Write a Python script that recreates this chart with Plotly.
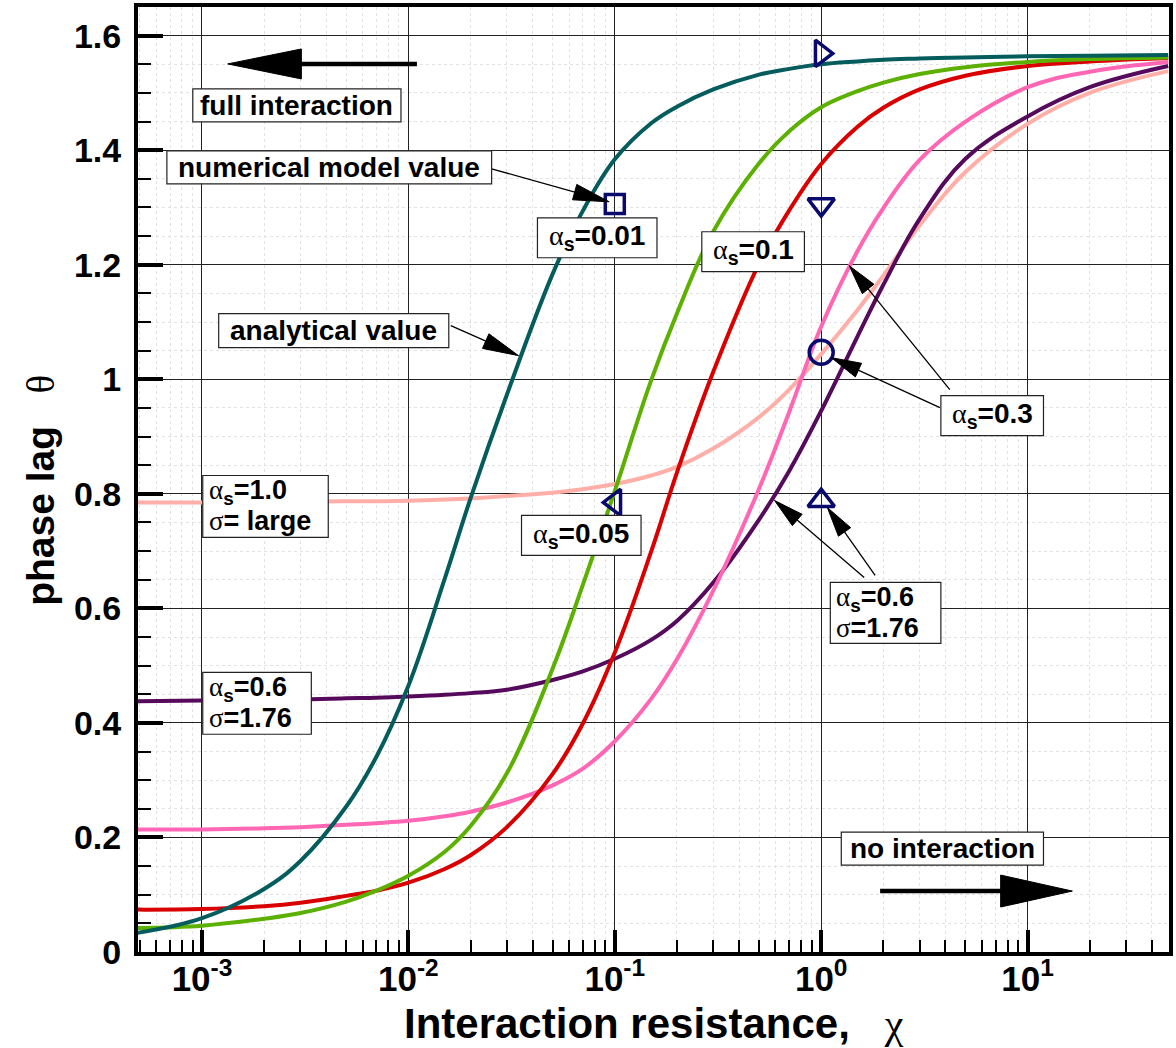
import math
import plotly.graph_objects as go

# ---------------- data ----------------
# interaction resistance chi (shared sampling of the analytical curves)
chi = [4.8e-4, 1e-3, 2e-3, 3e-3, 5e-3, 7e-3, 0.01, 0.015, 0.02, 0.03, 0.05, 0.07,
       0.1, 0.15, 0.2, 0.3, 0.5, 0.7, 1, 1.5, 2, 3, 5, 10, 20, 48]

# analytical phase lag theta for each case
theta_a001 = [0.033, 0.059, 0.110, 0.159, 0.254, 0.341, 0.465, 0.652, 0.792, 0.973, 1.184, 1.294,
              1.384, 1.447, 1.476, 1.506, 1.532, 1.542, 1.550, 1.555, 1.558, 1.560, 1.562, 1.564, 1.565, 1.566]
theta_a005 = [0.042, 0.046, 0.058, 0.068, 0.088, 0.107, 0.133, 0.175, 0.220, 0.312, 0.495, 0.641,
              0.805, 0.998, 1.115, 1.258, 1.377, 1.433, 1.475, 1.503, 1.518, 1.533, 1.545, 1.554, 1.559, 1.562]
theta_a01 = [0.074, 0.075, 0.080, 0.086, 0.098, 0.107, 0.121, 0.145, 0.169, 0.218, 0.311, 0.399,
             0.523, 0.699, 0.837, 1.013, 1.202, 1.295, 1.376, 1.441, 1.474, 1.506, 1.530, 1.547, 1.555, 1.561]
theta_a03 = [0.214, 0.214, 0.216, 0.218, 0.222, 0.225, 0.229, 0.237, 0.245, 0.261, 0.291, 0.320,
             0.368, 0.442, 0.511, 0.631, 0.809, 0.943, 1.092, 1.224, 1.299, 1.383, 1.450, 1.510, 1.537, 1.554]
theta_a06 = [0.438, 0.439, 0.440, 0.441, 0.443, 0.444, 0.446, 0.449, 0.452, 0.458, 0.475, 0.490,
             0.512, 0.545, 0.578, 0.645, 0.755, 0.840, 0.945, 1.075, 1.165, 1.280, 1.385, 1.459, 1.510, 1.547]
theta_a10 = [0.785, 0.785, 0.786, 0.786, 0.787, 0.787, 0.788, 0.790, 0.792, 0.796, 0.802, 0.808,
             0.817, 0.832, 0.847, 0.879, 0.934, 0.982, 1.044, 1.121, 1.181, 1.269, 1.362, 1.446, 1.500, 1.538]

# numerical model values
num_chi = [0.1, 1, 1, 1, 0.1, 1]
num_theta = [1.306, 1.569, 1.305, 1.047, 0.785, 0.788]

y_ticks = [0, 0.2, 0.4, 0.6, 0.8, 1.0, 1.2, 1.4, 1.6]
x_ticks = [1e-3, 1e-2, 1e-1, 1, 10]
x_ticktext = ["10<sup>-3</sup>", "10<sup>-2</sup>", "10<sup>-1</sup>", "10<sup>0</sup>", "10<sup>1</sup>"]

# ---------------- geometry / style ----------------
FONT = "Liberation Sans, Arial, sans-serif"
SERIF = "Liberation Serif"
FIG_W, FIG_H = 1176, 1048
M_L, M_R, M_T, M_B = 138, 3, 6, 96
PW = FIG_W - M_L - M_R
PH = FIG_H - M_T - M_B
NAVY = "#0a0a6e"
LABEL_SIZE = 28


def pp(x, y):
    """page pixel -> paper fraction"""
    return (x - M_L) / PW, (FIG_H - M_B - y) / PH


fig = go.Figure()

curves = [
    (theta_a10, "#ffaea8"),
    (theta_a06, "#560a5c"),
    (theta_a03, "#ff66b3"),
    (theta_a01, "#d80000"),
    (theta_a005, "#5cb000"),
    (theta_a001, "#045c5c"),
]
for th, col in curves:
    fig.add_trace(go.Scatter(x=chi, y=th, mode="lines",
                             line=dict(color=col, width=4, shape="spline", smoothing=1.1),
                             hoverinfo="skip"))

symbols = ["square-open", "triangle-right-open", "triangle-down-open",
           "circle-open", "triangle-left-open", "triangle-up-open"]
sizes = [19, 23, 23, 24, 23, 23]
for cx, ty, sym, sz in zip(num_chi, num_theta, symbols, sizes):
    fig.add_trace(go.Scatter(x=[cx], y=[ty], mode="markers",
                             marker=dict(symbol=sym, size=sz, color=NAVY,
                                         line=dict(color=NAVY, width=3.5)),
                             hoverinfo="skip"))


def add_box(l, t, r, b):
    x0, y0 = pp(l, b)
    x1, y1 = pp(r, t)
    fig.add_shape(type="rect", xref="paper", yref="paper", x0=x0, y0=y0, x1=x1, y1=y1,
                  fillcolor="white", line=dict(color="#222", width=1.2), layer="above")


def add_text(text, x, y, xanchor="center", size=LABEL_SIZE, angle=0):
    ax_, ay_ = pp(x, y)
    fig.add_annotation(text=text, x=ax_, y=ay_, xref="paper", yref="paper",
                       xanchor=xanchor, yanchor="middle", showarrow=False, textangle=angle,
                       font=dict(family=FONT, size=size, color="black"))


def add_arrow(tail, tip, lw, head_len, head_half):
    (x0, y0), (x1, y1) = tail, tip
    d = math.hypot(x1 - x0, y1 - y0)
    ux, uy = (x1 - x0) / d, (y1 - y0) / d
    bx, by = x1 - ux * head_len, y1 - uy * head_len
    a = pp(x0, y0)
    b = pp(bx + ux * 2, by + uy * 2)
    fig.add_shape(type="line", xref="paper", yref="paper", x0=a[0], y0=a[1], x1=b[0], y1=b[1],
                  line=dict(color="black", width=lw), layer="above")
    nx, ny = -uy, ux
    pts = [(x1, y1), (bx + nx * head_half, by + ny * head_half), (bx - nx * head_half, by - ny * head_half)]
    path = "M " + " L ".join("%.5f,%.5f" % pp(*p) for p in pts) + " Z"
    fig.add_shape(type="path", path=path, xref="paper", yref="paper",
                  fillcolor="black", line=dict(color="black", width=1), layer="above")


def alpha(val):
    return ("<span style='font-family:%s'>α</span><sub><b>s</b></sub><b>=%s</b>" % (SERIF, val))


def sigma(val):
    return "<span style='font-family:%s'>σ</span><b>=%s</b>" % (SERIF, val)


# direction arrows
add_arrow((418, 63), (228, 63), 4.5, 74, 15)
add_arrow((883, 891), (1076, 891), 4.5, 72, 16)

# pointer arrows
add_arrow((493, 168), (611, 201), 1.3, 36, 8)
add_arrow((452, 325), (520, 355), 1.3, 36, 8)
add_arrow((943, 407), (834, 357), 1.3, 30, 7.5)
add_arrow((953, 389), (852, 265), 1.3, 30, 7.5)
add_arrow((867, 577), (777, 500), 1.3, 30, 7.5)
add_arrow((878, 575), (830, 507), 1.3, 30, 7.5)

# single-line labels: (text, left, top, right, bottom)
single = [
    ("<b>full interaction</b>", 193, 88, 402, 121),
    ("<b>numerical model value</b>", 167, 150, 493, 183),
    ("<b>analytical value</b>", 219, 313, 450, 347),
    (alpha("0.01"), 539, 217, 659, 257),
    (alpha("0.1"), 704, 231, 807, 271),
    (alpha("0.05"), 523, 515, 643, 555),
    (alpha("0.3"), 944, 395, 1047, 435),
    ("<b>no interaction</b>", 844, 832, 1047, 865),
]
for txt, l, t, r, b in single:
    add_box(l, t, r, b)
    add_text(txt, (l + r) / 2, (t + b) / 2)

# two-line labels
double = [
    (alpha("1.0"), sigma(" large"), 203, 475, 329, 537),
    (alpha("0.6"), sigma("1.76"), 203, 672, 312, 734),
    (alpha("0.6"), sigma("1.76"), 833, 582, 944, 643),
]
for l1, l2, l, t, r, b in double:
    add_box(l, t, r, b)
    add_text(l1, l + 4, t + 17, xanchor="left", size=27)
    add_text(l2, l + 4, t + 46, xanchor="left", size=27)

# axis titles
add_text("<b>Interaction resistance,</b>\u00a0\u00a0\u00a0<span style='font-family:%s'>χ</span>" % SERIF,
         656, 1024, size=42)
add_text("<b>phase lag</b>\u00a0\u00a0\u00a0<span style='font-family:%s'>θ</span>" % SERIF,
         40, 490, size=39, angle=-90)

minor_x = [m * 10.0 ** e for e in range(-4, 2) for m in range(2, 10)]

fig.update_xaxes(
    type="log", range=[-3.31, 1.685],
    showline=True, linecolor="black", linewidth=4, mirror=True,
    showgrid=True, gridcolor="#222", gridwidth=1.2,
    ticks="inside", ticklen=22, tickwidth=4, tickcolor="black",
    tickvals=x_ticks, ticktext=x_ticktext,
    tickfont=dict(family=FONT, size=35, color="black", weight="bold"),
    ticklabelstandoff=-7,
    minor=dict(tickvals=minor_x, ticks="inside", ticklen=12, tickwidth=1.5, tickcolor="black",
               showgrid=True, gridcolor="#e2e2e2", griddash="dot", gridwidth=1),
    zeroline=False,
)
fig.update_yaxes(
    range=[0, 1.65],
    showline=True, linecolor="black", linewidth=4, mirror=True,
    showgrid=True, gridcolor="#222", gridwidth=1.2,
    ticks="inside", ticklen=25, tickwidth=4, tickcolor="black",
    tickvals=y_ticks,
    tickfont=dict(family=FONT, size=34, color="black", weight="bold"),
    ticklabelstandoff=6,
    minor=dict(dtick=0.05, ticks="inside", ticklen=13, tickwidth=1.5, tickcolor="black",
               showgrid=True, gridcolor="#e2e2e2", griddash="dot", gridwidth=1),
    zeroline=False,
)
fig.update_layout(
    width=FIG_W, height=FIG_H,
    margin=dict(l=M_L, r=M_R, t=M_T, b=M_B),
    plot_bgcolor="white", paper_bgcolor="white",
    showlegend=False,
)

fig.write_html("out.html")
